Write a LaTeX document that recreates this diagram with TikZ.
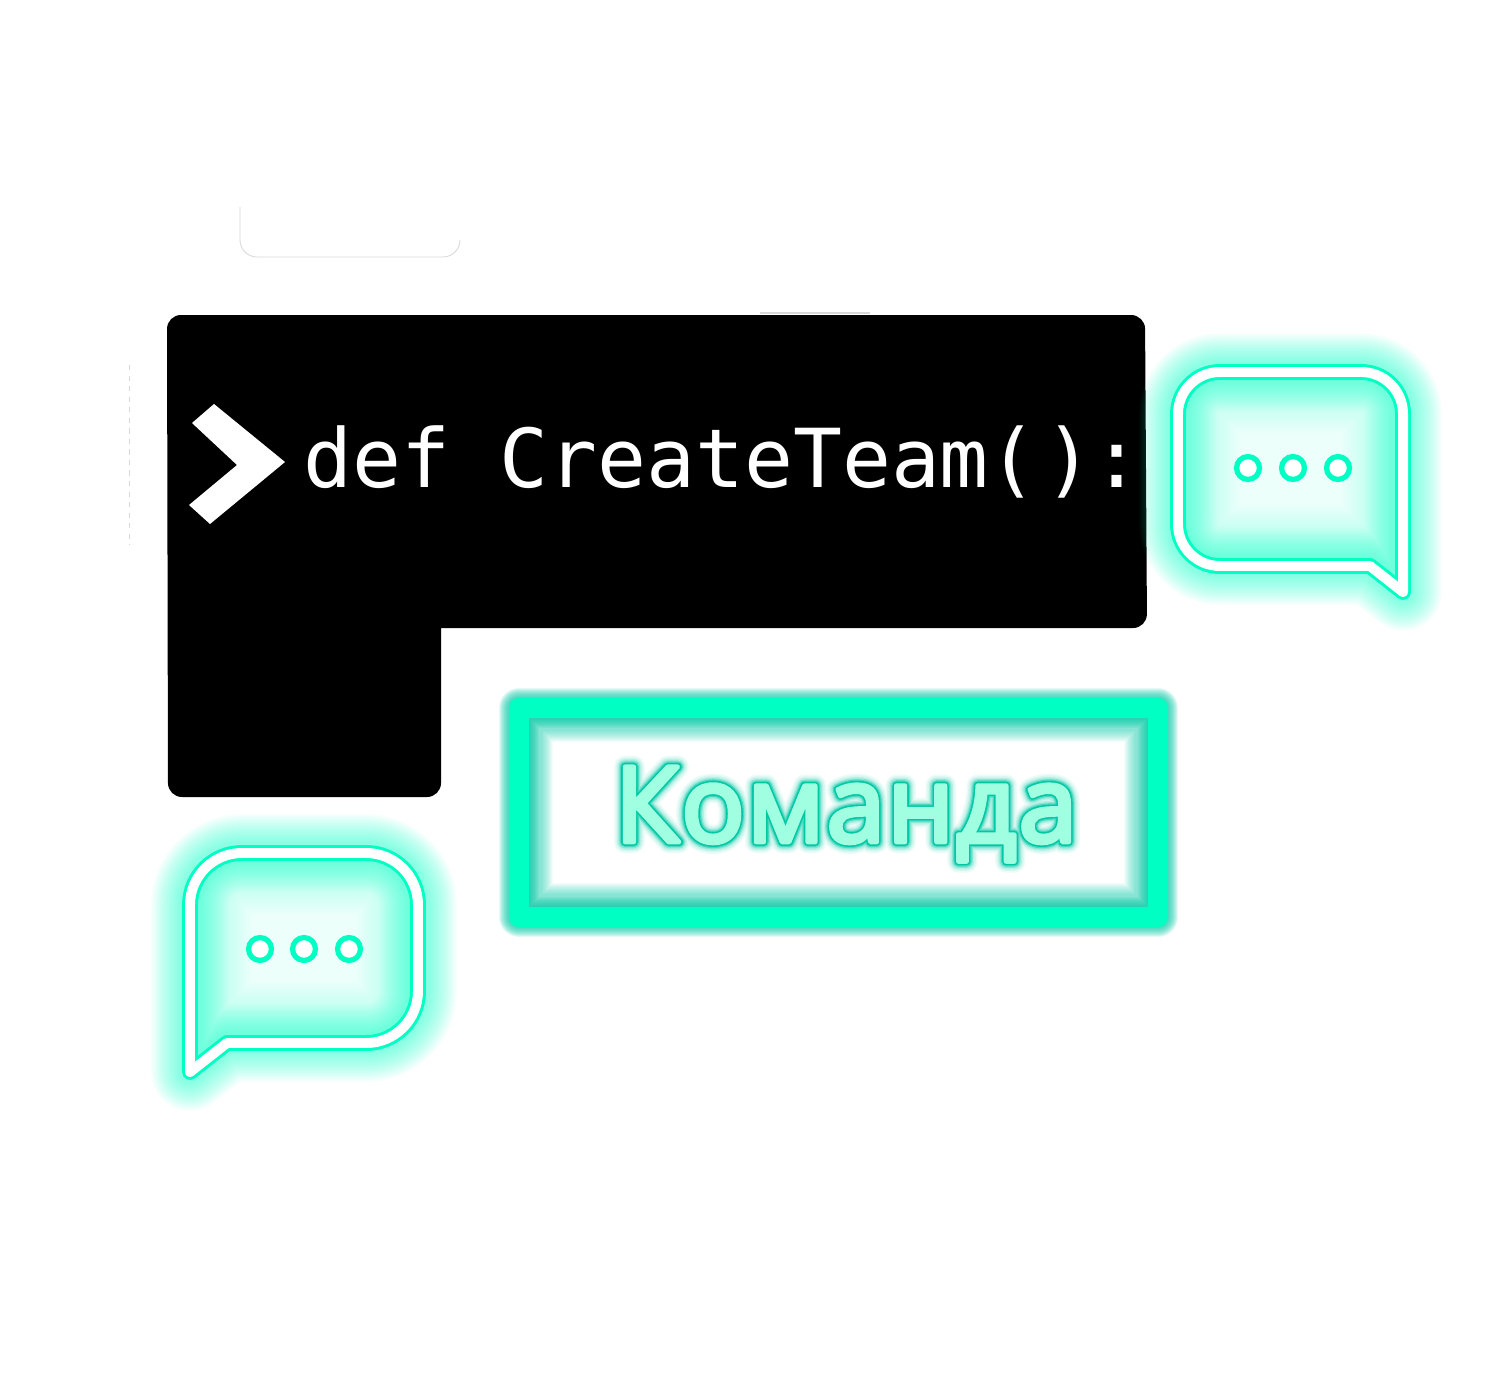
\documentclass[tikz,border=0pt]{standalone}
\usepackage{xcolor}
\usepackage{fontspec}
\setmainfont{Open Sans}[LetterSpace=2]
\newfontfamily\codefont{DejaVu Sans Mono}
\definecolor{neon}{HTML}{00FFC3}
\definecolor{neondark}{HTML}{00C8A4}
\definecolor{faint}{HTML}{D8D8D8}
\tikzset{
    neonline/.style={draw=neon,line join=round,line cap=round},
    dotmark/.style={circle,draw=neon,fill=white,line width=3pt,inner sep=0pt,minimum size=23*0.567pt},
}
% soft halo, then teal stroke, then white core
\newcommand{\neonbubble}[1]{
    \fill[neon,opacity=0.07] #1;
    \begin{scope}
        \clip #1;
        \foreach \w in {124,120,...,80}
            \draw[neonline,opacity=0.012,line width=\w*0.567pt] #1;
    \end{scope}
    \foreach \w in {78,75,...,22}
        \draw[neonline,opacity=0.03,line width=\w*0.567pt] #1;
    \draw[neonline,line width=16*0.567pt] #1;
    \draw[draw=white,line join=round,line cap=round,line width=10*0.567pt] #1;
}
% same glyphs stroked several times, widest first
\newbox\glowbox
\newcommand{\glowlayer}[2]{\rlap{\special{pdf:code 2 Tr #1 RG #1 rg #2 w 1 j}\copy\glowbox}}
\newcommand{\glowtext}[1]{\setbox\glowbox\hbox{#1}%
    \glowlayer{.92 .983 .971}{12.5}\glowlayer{.84 .965 .943}{10.5}\glowlayer{.72 .94 .90}{8.8}%
    \glowlayer{.55 .903 .839}{7.2}\glowlayer{.30 .849 .75}{5.8}\glowlayer{0 .784 .643}{4.4}%
    \glowlayer{.624 1 .878}{2.6}%
    \special{pdf:code 0 Tr 1 w 0 0 0 RG 0 0 0 rg}\phantom{\copy\glowbox}}
\begin{document}
\begin{tikzpicture}[x=0.02cm,y=-0.02cm]
    \useasboundingbox (0,0) rectangle (1500,1375);
    % faint leftovers
    \draw[faint,line width=0.5pt] (240,207)--(240,240) arc[start angle=180,end angle=90,radius=17] --(443,257) arc[start angle=90,end angle=0,radius=17];
    \draw[faint,line width=0.5pt,dashed] (129,365)--(129,545);
    \draw[faint,line width=0.8pt] (760,313)--(870,313);
    % code panel
    \fill[black,rounded corners=14*0.567pt] (167,315)--(1145,315)--(1147,628)[sharp corners]--(441,628)[rounded corners=14*0.567pt]--(441,797)--(168,797)--cycle;
    \fill[white] (192,423)--(214,404)--(285,462)--(210,524)--(189,505)--(237,465)--cycle;
    \node[anchor=base west,inner sep=0pt,text=white,font=\codefont\fontsize{46.3}{46}\selectfont] (code) at (303,487) {def CreateTeam(\kern3.5pt):};
    % right bubble
    \neonbubble{[rounded corners=42*0.567pt] (1178,372)--(1403,372)--(1403,470)[sharp corners]--(1403,592)--(1370,566)[rounded corners=42*0.567pt]--(1178,566)--cycle}
    \foreach \i/\x in {1/1248,2/1293,3/1338}
        \node[dotmark] (r\i) at (\x,468) {};
    % left bubble
    \neonbubble{[rounded corners=52*0.567pt] (227,1043)--(418,1043)--(418,853)--(190,853)--(190,1000)[sharp corners]--(190,1072)--cycle}
    \foreach \i/\x in {1/260,2/304,3/349}
        \node[dotmark] (l\i) at (\x,949) {};
    % team box
    \begin{scope}
        \clip (519,708) rectangle (1158,917);
        \foreach \w in {68,66,...,46}
            \draw[neondark,opacity=0.05,line width=\w*0.567pt] (519,708) rectangle (1158,917);
    \end{scope}
    \foreach \w in {40,38,...,22}
        \draw[neondark,opacity=0.11,line width=\w*0.567pt,line join=round] (519,708) rectangle (1158,917);
    \draw[neon,line width=21*0.567pt,line join=round] (519,708) rectangle (1158,917);
    \node[anchor=base,inner sep=0pt,font=\fontsize{60}{60}\selectfont] (team) at (846,842) {\glowtext{Команда}};
\end{tikzpicture}
\end{document}
